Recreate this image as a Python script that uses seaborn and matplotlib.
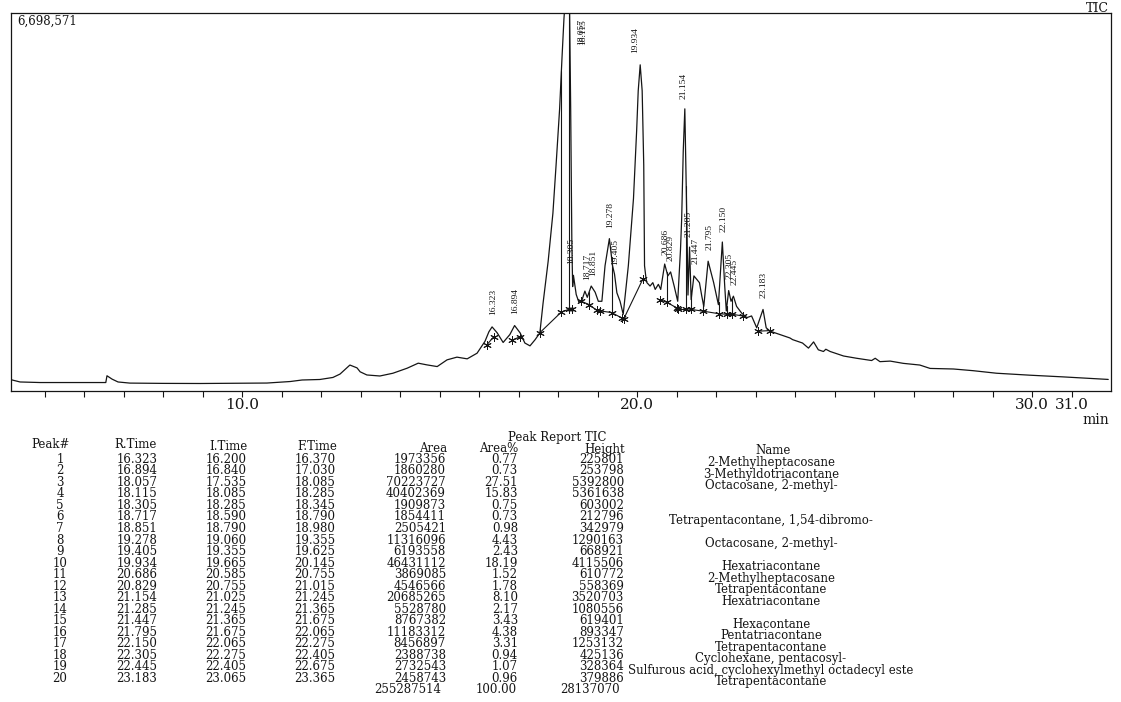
import numpy as np
import pandas as pd
import matplotlib
matplotlib.use("Agg")
import matplotlib.pyplot as plt
from matplotlib.ticker import FixedLocator, FuncFormatter
import seaborn as sns

# ---------------- chromatogram trace ----------------
trace_time = [4.05, 4.18, 4.38, 4.89, 5.80, 6.41, 6.55, 6.58, 6.71, 6.86, 7.16, 8.00,
              8.94, 10.00, 10.63, 11.22, 11.52, 11.97, 12.30, 12.48, 12.73, 12.91, 12.99,
              13.16, 13.49, 13.82, 14.18, 14.46, 14.68, 14.94, 15.19, 15.44, 15.70, 15.95,
              16.15, 16.25, 16.33, 16.46, 16.61, 16.78, 16.90, 17.04, 17.16, 17.29, 17.42,
              17.54, 17.62, 17.75, 17.87, 17.95, 18.04, 18.10, 18.15, 18.20, 18.25,
              18.29, 18.32, 18.35, 18.37, 18.39, 18.46, 18.53, 18.61, 18.68, 18.74, 18.84,
              18.94, 19.02, 19.11, 19.19, 19.30, 19.38, 19.43, 19.49, 19.57, 19.65, 19.78,
              19.91, 19.99, 20.03, 20.08, 20.13, 20.17, 20.19, 20.23, 20.25, 20.33, 20.40,
              20.46, 20.54, 20.60, 20.70, 20.78, 20.85, 20.94, 21.03, 21.10, 21.13, 21.17,
              21.21, 21.26, 21.29, 21.33, 21.37, 21.44, 21.51, 21.58, 21.64, 21.69, 21.80,
              21.94, 22.06, 22.16, 22.22, 22.26, 22.32, 22.38, 22.44, 22.52, 22.65, 22.78,
              22.90, 23.03, 23.19, 23.27, 23.37, 23.62, 23.87, 23.94, 24.19, 24.34, 24.47,
              24.59, 24.72, 24.78, 24.89, 25.23, 25.56, 25.94, 26.03, 26.15, 26.41, 26.74,
              27.16, 27.42, 28.01, 28.51, 29.10, 29.95, 30.79, 31.93]
trace_intensity_m = [0.25, 0.195, 0.16, 0.15, 0.15, 0.15, 0.15, 0.27, 0.21, 0.16, 0.14, 0.135,
                     0.133, 0.137, 0.141, 0.168, 0.195, 0.204, 0.24, 0.30, 0.46, 0.41, 0.34,
                     0.284, 0.266, 0.315, 0.404, 0.493, 0.463, 0.433, 0.552, 0.60, 0.57, 0.67,
                     0.88, 1.05, 1.136, 1.03, 0.86, 1.00, 1.16, 1.03, 0.85, 0.80, 0.91,
                     1.03, 1.55, 2.30, 3.15, 4.00, 5.00, 5.90, 6.60, 7.10, 7.20,
                     6.90, 5.00, 2.60, 1.85, 2.05, 1.71, 1.57, 1.62, 1.77, 1.66, 1.86,
                     1.75, 1.59, 1.59, 2.22, 2.70, 2.22, 2.07, 1.74, 1.59, 1.36, 2.22,
                     3.41, 4.61, 5.32, 5.78, 5.32, 4.00, 2.22, 1.98, 1.92, 1.86, 1.92,
                     1.80, 1.89, 1.80, 2.25, 2.04, 2.11, 1.86, 1.59, 2.50, 3.05, 4.25,
                     5.00, 3.05, 1.70, 2.55, 1.62, 2.04, 1.98, 1.92, 1.68, 1.50, 2.30,
                     1.92, 1.53, 2.64, 1.86, 1.42, 1.78, 1.59, 1.68, 1.50, 1.38, 1.30,
                     1.33, 1.12, 1.445, 1.12, 1.06, 1.00, 0.94, 0.91, 0.85, 0.76, 0.87,
                     0.73, 0.70, 0.74, 0.70, 0.62, 0.58, 0.54, 0.58, 0.52, 0.53, 0.49,
                     0.46, 0.40, 0.39, 0.36, 0.315, 0.28, 0.25, 0.205]

# integration baseline points (peak start / end), intensity in millions
boundary_time = [16.200, 16.370, 16.840, 17.030, 17.535, 18.085, 18.285, 18.345, 18.590,
                 18.790, 18.980, 19.060, 19.355, 19.625, 19.665, 20.145, 20.585, 20.755,
                 21.015, 21.025, 21.245, 21.365, 21.675, 22.065, 22.275, 22.405, 22.675,
                 23.065, 23.365]
boundary_intensity_m = [0.82, 0.96, 0.90, 0.96, 1.03, 1.40, 1.45, 1.46, 1.59,
                        1.53, 1.43, 1.42, 1.39, 1.29, 1.28, 1.98, 1.62, 1.57,
                        1.47, 1.46, 1.46, 1.445, 1.415, 1.37, 1.36, 1.36, 1.33,
                        1.06, 1.07]

y_max = 6698571

# ---------------- peak report table ----------------
peak_no = list(range(1, 21))
r_time = [16.323, 16.894, 18.057, 18.115, 18.305, 18.717, 18.851, 19.278, 19.405, 19.934,
          20.686, 20.829, 21.154, 21.285, 21.447, 21.795, 22.150, 22.305, 22.445, 23.183]
i_time = [16.200, 16.840, 17.535, 18.085, 18.285, 18.590, 18.790, 19.060, 19.355, 19.665,
          20.585, 20.755, 21.025, 21.245, 21.365, 21.675, 22.065, 22.275, 22.405, 23.065]
f_time = [16.370, 17.030, 18.085, 18.285, 18.345, 18.790, 18.980, 19.355, 19.625, 20.145,
          20.755, 21.015, 21.245, 21.365, 21.675, 22.065, 22.275, 22.405, 22.675, 23.365]
area = [1973356, 1860280, 70223727, 40402369, 1909873, 1854411, 2505421, 11316096, 6193558,
        46431112, 3869085, 4546566, 20685265, 5528780, 8767382, 11183312, 8456897, 2388738,
        2732543, 2458743]
area_pct = [0.77, 0.73, 27.51, 15.83, 0.75, 0.73, 0.98, 4.43, 2.43, 18.19, 1.52, 1.78, 8.10,
            2.17, 3.43, 4.38, 3.31, 0.94, 1.07, 0.96]
area_pct_total = 100.00
height = [225801, 253798, 5392800, 5361638, 603002, 212796, 342979, 1290163, 668921, 4115506,
          610772, 558369, 3520703, 1080556, 619401, 893347, 1253132, 425136, 328364, 379886]
names = ["2-Methylheptacosane", "3-Methyldotriacontane", "Octacosane, 2-methyl-", "", "",
         "Tetrapentacontane, 1,54-dibromo-", "", "Octacosane, 2-methyl-", "",
         "Hexatriacontane", "2-Methylheptacosane", "Tetrapentacontane", "Hexatriacontane", "",
         "Hexacontane", "Pentatriacontane", "Tetrapentacontane", "Cyclohexane, pentacosyl-",
         "Sulfurous acid, cyclohexylmethyl octadecyl este", "Tetrapentacontane"]
axis_labels = [10, 20, 30, 31]

# ---------------- drawing ----------------
sns.set_theme(style="white")
plt.rcParams["font.family"] = ["DejaVu Serif"]
INK = "#151515"

W_PX, H_PX = 1121, 702
fig = plt.figure(figsize=(W_PX / 100, H_PX / 100), dpi=100)
fig.patch.set_facecolor("white")
left, right, top, bottom = 11, 1111, 13, 391
ax = fig.add_axes([left / W_PX, 1 - bottom / H_PX, (right - left) / W_PX, (bottom - top) / H_PX])

df = pd.DataFrame({"time": trace_time, "intensity": np.array(trace_intensity_m) * 1e6})
sns.lineplot(data=df, x="time", y="intensity", ax=ax, color=INK, linewidth=0.9,
             sort=False, estimator=None)
ax.set_xlim(4.15, 32.0)
ax.set_ylim(0, y_max)

bmap = dict(zip(boundary_time, np.array(boundary_intensity_m) * 1e6))
for it, ft in zip(i_time, f_time):
    ax.plot([it, ft], [bmap[it], bmap[ft]], color=INK, lw=0.8)
ax.plot(boundary_time, [bmap[t] for t in boundary_time], ls="none", marker=(6, 2, 0),
        ms=6, mew=0.7, color=INK)

trace_i = df["intensity"].to_numpy()
shared = sorted(set(i_time) & set(f_time))
for t in shared:
    top_v = min(np.interp(t, trace_time, trace_i), y_max)
    ax.plot([t, t], [bmap[t], top_v], color=INK, lw=0.8)

for rt, it, ft, h in zip(r_time, i_time, f_time, height):
    b0, b1 = bmap[it], bmap[ft]
    base = b0 + (b1 - b0) * (rt - it) / (ft - it)
    apex = base + h
    if apex > 0.9 * y_max:
        x_lab, y_lab = rt + 0.52, 0.915 * y_max
    else:
        x_lab, y_lab = rt + 0.03, apex + 0.03 * y_max
    ax.text(x_lab, y_lab, f"{rt:.3f}", rotation=90, ha="center", va="bottom",
            fontsize=6.8, family=["Liberation Serif", "DejaVu Serif"], color=INK)

ax.xaxis.set_major_locator(FixedLocator(np.arange(5, 32)))
ax.xaxis.set_major_formatter(FuncFormatter(lambda v, p: f"{v:.1f}" if int(round(v)) in axis_labels else ""))
ax.tick_params(axis="x", direction="out", length=4, width=0.8, pad=1, labelsize=11,
               colors=INK, bottom=True)
ax.set_yticks([])
ax.set_xlabel("")
ax.set_ylabel("")
for s in ax.spines.values():
    s.set_visible(True)
    s.set_color(INK)
    s.set_linewidth(0.9)

ax.text(0.006, 0.995, f"{y_max:,}", transform=ax.transAxes, ha="left", va="top",
        fontsize=8.5, color=INK)


def ftxt(x, y, s, ha="left", size=8.5, **kw):
    fig.text(x / W_PX, 1 - y / H_PX, s, ha=ha, va="center", fontsize=size, color=INK, **kw)


ftxt(1109, 8, "TIC", ha="right", size=9)
ftxt(1109, 420, "min", ha="right", size=10)

# table
ftxt(557, 437, "Peak Report TIC", ha="center")
ftxt(70, 445, "Peak#", ha="right")
ftxt(136, 445, "R.Time", ha="center")
ftxt(228, 446, "I.Time", ha="center")
ftxt(317, 446.5, "F.Time", ha="center")
ftxt(447, 449, "Area", ha="right")
ftxt(499, 449, "Area%", ha="center")
ftxt(625, 449, "Height", ha="right")
ftxt(773, 450.5, "Name", ha="center")

row0, dy = 459.3, 11.53
for k in range(len(peak_no)):
    y = row0 + k * dy
    ftxt(60, y, str(peak_no[k]), ha="center")
    ftxt(137, y, f"{r_time[k]:.3f}", ha="center")
    ftxt(226, y, f"{i_time[k]:.3f}", ha="center")
    ftxt(315, y, f"{f_time[k]:.3f}", ha="center")
    ftxt(446, y, f"{area[k]}", ha="right")
    ftxt(518, y, f"{area_pct[k]:.2f}", ha="right")
    ftxt(624, y, f"{height[k]}", ha="right")
    if names[k]:
        ftxt(771, y + 3.5, names[k], ha="center")

y_tot = row0 + len(peak_no) * dy
ftxt(441, y_tot, f"{sum(area)}", ha="right")
ftxt(517, y_tot, f"{area_pct_total:.2f}", ha="right")
ftxt(620, y_tot, f"{sum(height)}", ha="right")

fig.savefig("out.png", dpi=100, facecolor="white")
